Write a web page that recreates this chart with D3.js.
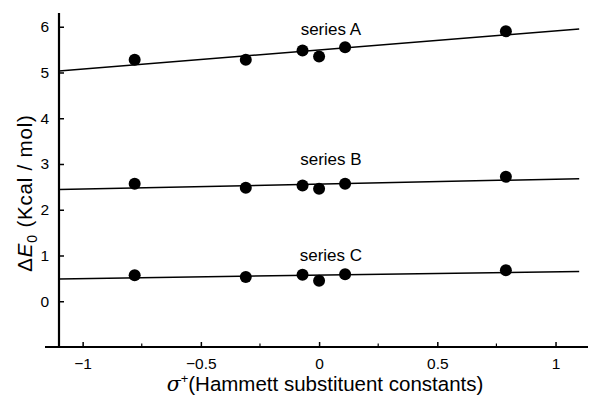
<!DOCTYPE html>
<html>
<head>
<meta charset="utf-8">
<script src="https://cdn.jsdelivr.net/npm/d3@7"></script>
<style>
  html, body { margin: 0; padding: 0; background: #fff; }
  svg { display: block; }
  text { font-family: "Liberation Sans", Arial, Helvetica, sans-serif; fill: #000; }
</style>
</head>
<body>
<svg id="chart" width="591" height="403"></svg>
<script>
// ---- data ----
const sigmaPlus = [-0.78, -0.31, -0.07, 0, 0.11, 0.79];
const seriesNames = ["series A", "series B", "series C"];
const seriesA = [5.28, 5.28, 5.48, 5.35, 5.55, 5.90];
const seriesB = [2.57, 2.48, 2.53, 2.46, 2.57, 2.72];
const seriesC = [0.57, 0.53, 0.58, 0.45, 0.59, 0.68];
const labelAnchorX = [0.05, 0.05, 0.05];
const labelAnchorY = [5.82, 2.98, 0.88];
const xTicks = [-1, -0.5, 0, 0.5, 1];
const xMinorTicks = [-0.75, -0.25, 0.25, 0.75];
const yTicks = [0, 1, 2, 3, 4, 5, 6];
const fitRange = [-1.1, 1.1];

const allSeries = [seriesA, seriesB, seriesC];

const svg = d3.select("#chart");
const x = d3.scaleLinear().domain([-1.1, 1.15]).range([59, 591]);
const y = d3.scaleLinear().domain([-1, 6.3]).range([347, 13]);

// least squares fit
function fit(xs, ys) {
  const mx = d3.mean(xs), my = d3.mean(ys);
  let sxy = 0, sxx = 0;
  xs.forEach((v, i) => { sxy += (v - mx) * (ys[i] - my); sxx += (v - mx) * (v - mx); });
  const b = sxy / sxx;
  return { a: my - b * mx, b };
}

const fmt = d => d === 0 ? "0" : d3.format("")(d).replace("-", "\u2212");

// x axis
const gx = svg.append("g").attr("transform", `translate(0,${y(-1)})`);
gx.call(d3.axisBottom(x).tickValues(xTicks).tickSize(-5).tickPadding(11)
  .tickFormat(fmt).tickSizeOuter(0));
gx.select(".domain").remove();
gx.selectAll(".tick line").attr("stroke", "#000").attr("stroke-width", 1.5);
gx.selectAll(".tick text").attr("font-size", 15.5).attr("fill", "#000");
gx.selectAll(".minor").data(xMinorTicks).enter().append("line")
  .attr("x1", d => x(d)).attr("x2", d => x(d)).attr("y1", 0).attr("y2", -3.5)
  .attr("stroke", "#000").attr("stroke-width", 1.2);

// y axis
const gy = svg.append("g").attr("transform", `translate(${x(-1.1)},0)`);
gy.call(d3.axisLeft(y).tickValues(yTicks).tickSize(-5).tickPadding(10)
  .tickFormat(fmt).tickSizeOuter(0));
gy.select(".domain").remove();
gy.selectAll(".tick line").attr("stroke", "#000").attr("stroke-width", 1.5);
gy.selectAll(".tick text").attr("font-size", 15.5).attr("fill", "#000");

// axis lines
svg.append("line").attr("x1", x(-1.1) - 14).attr("x2", 588)
  .attr("y1", y(-1)).attr("y2", y(-1)).attr("stroke", "#000").attr("stroke-width", 2);
svg.append("line").attr("x1", x(-1.1)).attr("x2", x(-1.1))
  .attr("y1", y(6.3)).attr("y2", y(-1)).attr("stroke", "#000").attr("stroke-width", 2.2);

// fit lines, points, labels
allSeries.forEach((ys, si) => {
  const f = fit(sigmaPlus, ys);
  svg.append("line")
    .attr("x1", x(fitRange[0])).attr("y1", y(f.a + f.b * fitRange[0]))
    .attr("x2", x(fitRange[1])).attr("y2", y(f.a + f.b * fitRange[1]))
    .attr("stroke", "#000").attr("stroke-width", 1.5);
  svg.selectAll(null).data(ys).enter().append("circle")
    .attr("cx", (d, i) => x(sigmaPlus[i])).attr("cy", d => y(d))
    .attr("r", 6).attr("fill", "#000");
  svg.append("text")
    .attr("x", x(labelAnchorX[si])).attr("y", y(labelAnchorY[si]))
    .attr("text-anchor", "middle").attr("font-size", 17)
    .text(seriesNames[si]);
});

// axis titles
const xt = svg.append("text").attr("x", 325).attr("y", 391)
  .attr("text-anchor", "middle").attr("font-size", 20.5);
xt.append("tspan").attr("font-family", "'DejaVu Serif', serif").attr("font-style", "italic").text("\u03C3");
xt.append("tspan").attr("font-size", 13).attr("dy", -8).text("+");
xt.append("tspan").attr("dy", 8).text("(Hammett substituent constants)");

const yt = svg.append("text").attr("transform", "translate(32,193) rotate(-90)")
  .attr("text-anchor", "middle").attr("font-size", 20.5).attr("letter-spacing", 0.8);
yt.append("tspan").text("\u0394");
yt.append("tspan").attr("font-style", "italic").text("E");
yt.append("tspan").attr("font-size", 14).attr("dy", 5).text("0");
yt.append("tspan").attr("dy", -5).text(" (Kcal / mol)");
</script>
</body>
</html>
